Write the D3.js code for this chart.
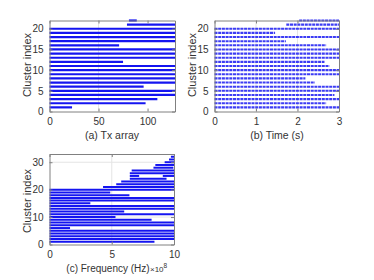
<!DOCTYPE html>
<html>
<head>
<meta charset="utf-8">
<script src="https://cdn.jsdelivr.net/npm/d3@7"></script>
<style>
  html, body { margin: 0; padding: 0; background: #fff; }
  svg text { font-family: "Liberation Sans", Arial, sans-serif; fill: #333; }
</style>
</head>
<body>
<svg id="chart" width="374" height="280"></svg>
<script>
// each segment: [cluster index, start, end]
const txSegments = [
  [1, 0, 23], [2, 0, 98], [3, 0, 110], [4, 0, 128], [5, 0, 128], [6, 0, 96],
  [7, 0, 128], [8, 0, 128], [9, 0, 128], [10, 0, 128], [11, 0, 128], [12, 0, 75],
  [13, 0, 128], [14, 0, 128], [15, 0, 128], [16, 0, 71], [17, 0, 128], [18, 0, 128],
  [19, 0, 128], [20, 0, 128], [21, 79, 128], [22, 81, 89]
];
const timeSegments = [
  [1, 0, 3], [2, 0, 2.69], [3, 0, 3], [4, 0, 2.89], [5, 0, 3], [6, 0, 3],
  [7, 0, 2.42], [8, 0, 2.19], [9, 0, 3], [10, 0, 3], [11, 0, 2.77], [12, 0, 2.65],
  [13, 0, 3], [14, 0, 3], [15, 0, 3], [16, 0, 2.69], [17, 0, 1.72], [18, 0, 3],
  [19, 0, 1.46], [20, 0, 3], [21, 1.73, 3], [22, 2.04, 3]
];
// frequency in units of 1e8 Hz
const freqSegments = [
  [1, 0, 8.43], [2, 0, 10], [3, 0, 10], [4, 0, 10], [5, 0, 10], [6, 0, 1.65],
  [7, 0, 10], [8, 0, 10], [9, 0, 8.2], [10, 0, 5.3], [11, 0, 10], [12, 0, 6.0],
  [13, 0, 10], [14, 0, 10], [15, 0, 3.28], [16, 0, 10], [17, 0, 10], [18, 0, 6.42],
  [19, 0, 4.88], [20, 0, 10], [21, 4.3, 10], [22, 5.36, 10], [23, 5.76, 10],
  [24, 6.45, 9.4], [25, 6.45, 7.2], [25, 9.1, 10], [26, 6.45, 10], [27, 6.6, 10],
  [28, 8.35, 9.95], [29, 8.5, 10], [30, 9.25, 10], [31, 9.6, 10], [32, 9.75, 10]
];

const txTicks = [0, 50, 100];
const timeTicks = [0, 1, 2, 3];
const freqTicks = [0, 5, 10];
const clusterTicksAB = [0, 5, 10, 15, 20];
const clusterTicksC = [0, 10, 20, 30];

const svg = d3.select("#chart");
const frameColor = "#808080";
const gridColor = "#e4e4e4";
const fmt = d3.format("~g");

function drawPanel(opts) {
  const x = d3.scaleLinear().domain(opts.xDomain).range([opts.left, opts.right]);
  const y = d3.scaleLinear().domain(opts.yDomain).range([opts.bottom, opts.top]);
  const g = svg.append("g");

  // grid
  g.append("g").selectAll("line").data(opts.xTicks.slice(1, -1)).join("line")
    .attr("x1", (d) => x(d)).attr("x2", (d) => x(d))
    .attr("y1", opts.top).attr("y2", opts.bottom)
    .attr("stroke", gridColor).attr("stroke-width", 1);
  g.append("g").selectAll("line").data(opts.yTicks.slice(1)).join("line")
    .attr("x1", opts.left).attr("x2", opts.right)
    .attr("y1", (d) => y(d)).attr("y2", (d) => y(d))
    .attr("stroke", gridColor).attr("stroke-width", 1);

  // cluster segments
  g.append("g").selectAll("line").data(opts.segments).join("line")
    .attr("x1", (d) => x(d[1])).attr("x2", (d) => x(d[2]))
    .attr("y1", (d) => y(d[0])).attr("y2", (d) => y(d[0]))
    .attr("stroke", opts.color)
    .attr("stroke-width", opts.barWidth)
    .attr("stroke-dasharray", opts.dash || null);

  // axes, ticks pointing inward
  const axes = [
    d3.axisBottom(x).tickValues(opts.xTicks).tickSize(-3).tickPadding(6).tickFormat(fmt),
    d3.axisLeft(y).tickValues(opts.yTicks).tickSize(-3).tickPadding(6).tickFormat(fmt),
    d3.axisTop(x).tickValues(opts.xTicks).tickSize(-3).tickFormat(""),
    d3.axisRight(y).tickValues(opts.yTicks).tickSize(-3).tickFormat("")
  ];
  const shifts = [
    `translate(0,${opts.bottom})`, `translate(${opts.left},0)`,
    `translate(0,${opts.top})`, `translate(${opts.right},0)`
  ];
  axes.forEach((ax, i) => {
    const a = g.append("g").attr("transform", shifts[i]).call(ax.tickSizeOuter(0));
    a.select(".domain").attr("stroke", frameColor);
    a.selectAll(".tick line").attr("stroke", frameColor);
    a.selectAll(".tick text")
      .attr("font-size", 10)
      .attr("fill", "#333")
      .style("font-family", '"Liberation Sans", Arial, sans-serif');
  });

  g.append("text")
    .attr("transform", `translate(${opts.left - 19},${opts.yLabelY}) rotate(-90)`)
    .attr("text-anchor", "middle")
    .attr("font-size", 11)
    .text("Cluster index");

  g.append("text")
    .attr("x", opts.xLabelX)
    .attr("y", opts.bottom + 27)
    .attr("text-anchor", "middle")
    .attr("font-size", opts.xLabelSize || 10.5)
    .text(opts.xLabel);

  return { x, y };
}

drawPanel({
  left: 49.5, right: 175, top: 20.5, bottom: 111.5,
  xDomain: [0, 128], yDomain: [0, 22],
  xTicks: txTicks, yTicks: clusterTicksAB,
  segments: txSegments, color: "#1414f0", barWidth: 2.2,
  xLabel: "(a) Tx array", xLabelX: 112, yLabelY: 65
});

drawPanel({
  left: 214.5, right: 339, top: 20.5, bottom: 111.5,
  xDomain: [0, 3], yDomain: [0, 22],
  xTicks: timeTicks, yTicks: clusterTicksAB,
  segments: timeSegments, color: "#3c3cf4", barWidth: 2.1, dash: "3,0.7",
  xLabel: "(b) Time (s)", xLabelX: 277, yLabelY: 65
});

drawPanel({
  left: 49.5, right: 174, top: 154, bottom: 244.5,
  xDomain: [0, 10], yDomain: [0, 33],
  xTicks: freqTicks, yTicks: clusterTicksC,
  segments: freqSegments, color: "#1414f0", barWidth: 2,
  xLabel: "(c) Frequency (Hz)", xLabelX: 108, xLabelSize: 10, yLabelY: 201
});

// exponent label for the frequency axis
const expo = svg.append("text")
  .attr("x", 150)
  .attr("y", 272)
  .attr("font-size", 8);
expo.append("tspan").text("\u00d710");
expo.append("tspan").attr("dy", -4).attr("font-size", 6.5).text("8");
</script>
</body>
</html>
